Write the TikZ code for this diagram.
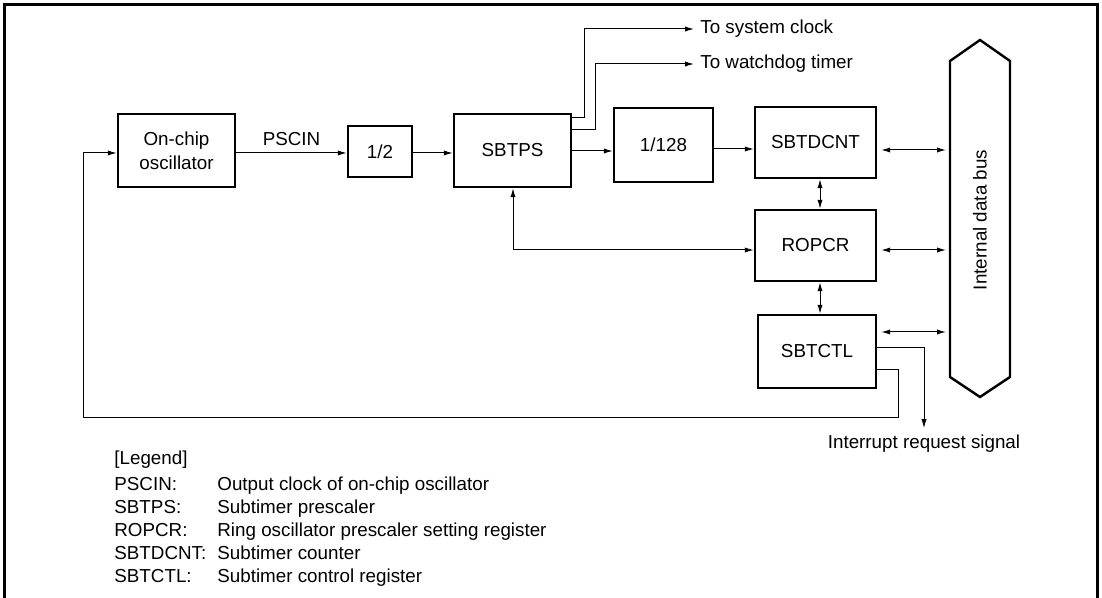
\documentclass[tikz,border=0pt]{standalone}
\usepackage{fontspec}
\setmainfont{Liberation Sans}
\usetikzlibrary{arrows.meta}

\begin{document}
\begin{tikzpicture}[x=0.5pt,y=-0.5pt,
		font=\fontsize{9.4}{12}\selectfont,
		blk/.style={draw,line width=1.2pt,inner sep=0pt,align=center},
		arr/.style={-{Latex[length=4.5pt,width=2.6pt]},line width=0.5pt},
		dbl/.style={{Latex[length=4.5pt,width=2.6pt]}-{Latex[length=4.5pt,width=2.6pt]},line width=0.5pt},
		lbl/.style={anchor=base west,inner sep=0pt}]
		\useasboundingbox (0,0) rectangle (1102,598);
		% frame (open at the bottom)
		\draw[line width=1.5pt] (4,598) -- (4,5) -- (1097,5) -- (1097,598);
		
		% blocks
		\node[blk,minimum width=58.5pt,minimum height=36.5pt] (osc) at (176.5,150.5) {On-chip\\oscillator};
		\node[blk,minimum width=32pt,minimum height=25.5pt] (half) at (380,151.5) {1/2};
		\node[blk,minimum width=58.5pt,minimum height=36.5pt] (sbtps) at (512.5,150.5) {SBTPS};
		\node[blk,minimum width=49.5pt,minimum height=37pt] (div) at (663.5,145) {1/128};
		\node[blk,minimum width=60.5pt,minimum height=35.5pt] (cnt) at (815.5,142.5) {SBTDCNT};
		\node[blk,minimum width=60.5pt,minimum height=35.5pt] (ropcr) at (815.5,245.5) {ROPCR};
		\node[blk,minimum width=59pt,minimum height=36.5pt] (ctl) at (817,351.5) {SBTCTL};
		
		% internal data bus
		\draw[line width=1.2pt] (950,61) -- (980,40) -- (1010,61) -- (1010,377) -- (980,397) -- (950,377) -- cycle;
		\node[rotate=90] (busname) at (980,220) {Internal data bus};
		\coordinate (busL) at (950,220);
		
		% outputs
		\node[anchor=west,inner sep=3pt] (sysclk) at (694,29) {To system clock};
		\node[anchor=west,inner sep=3pt] (wdt) at (694,64) {To watchdog timer};
		\node (irq) at (924,444) {Interrupt request signal};
		
		% clock path
		\draw[arr] (osc.east |- 0,153) -- node[above] (pscin) {PSCIN} (half.west |- 0,153);
		\draw[arr] (half.east |- 0,153) -- (sbtps.west |- 0,153);
		\draw[arr] (sbtps.east |- 0,151) -- (div.west |- 0,151);
		\draw[arr] (div.east |- 0,149) -- (cnt.west |- 0,149);
		\draw[arr] (sbtps.east |- 0,118) -| (584,29) -- (sysclk.west);
		\draw[arr] (sbtps.east |- 0,130) -| (595,64) -- (wdt.west);
		
		% registers
		\draw[dbl] (513,0 |- sbtps.south) |- (ropcr.west |- 0,250);
		\draw[dbl] (820,0 |- cnt.south) -- (820,0 |- ropcr.north);
		\draw[dbl] (820,0 |- ropcr.south) -- (820,0 |- ctl.north);
		\foreach \reg/\yy in {cnt/150,ropcr/250,ctl/332}{
			\draw[dbl,shorten <=2pt,shorten >=2pt] (\reg.east |- 0,\yy) -- (busL |- 0,\yy);
		}
		
		% interrupt and feedback
		\draw[arr] (ctl.east |- 0,348) -| (irq.north);
		\draw[arr] (ctl.east |- 0,370) -| (898,417) -| (83,153) -- (osc.west |- 0,153);
		
		% legend
		\node[lbl] (lgd) at (114,464) {[Legend]};
		\foreach \abbr/\txt [count=\i] in {PSCIN:/Output clock of on-chip oscillator,
			SBTPS:/Subtimer prescaler,
			ROPCR:/Ring oscillator prescaler setting register,
			SBTDCNT:/Subtimer counter,
			SBTCTL:/Subtimer control register}{
			\node[lbl] (ab\i) at (114,{467+\i*23}) {\abbr};
			\node[lbl] (tx\i) at (217,{467+\i*23}) {\txt};
		}
	\end{tikzpicture}
\end{document}
